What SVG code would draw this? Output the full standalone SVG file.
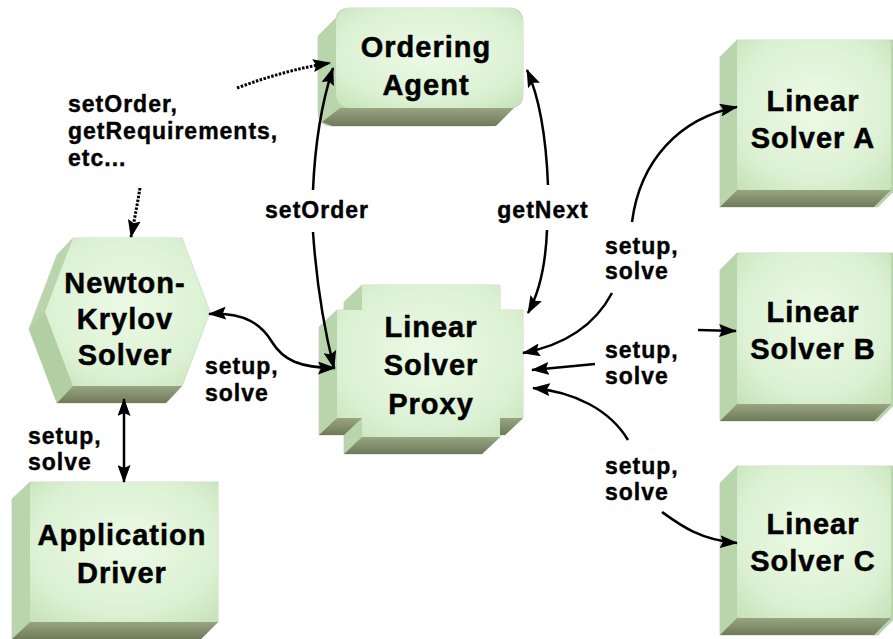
<svg xmlns="http://www.w3.org/2000/svg" width="893" height="639" viewBox="0 0 893 639">
<defs>
<radialGradient id="face" cx="50%" cy="45%" r="70%">
<stop offset="0" stop-color="#ecfae6"/>
<stop offset="0.7" stop-color="#dcf1d3"/>
<stop offset="1" stop-color="#c9e4bd"/>
</radialGradient>
<linearGradient id="bottom" x1="0" y1="0" x2="0" y2="1">
<stop offset="0" stop-color="#98a482"/>
<stop offset="1" stop-color="#6e7a58"/>
</linearGradient>
<marker id="arr" viewBox="0 0 18 13" refX="17" refY="6.5" markerWidth="18" markerHeight="13" markerUnits="userSpaceOnUse" orient="auto-start-reverse">
<path d="M0,0 L18,6.5 L0,13 L3,6.5 Z" fill="#000"/>
</marker>
<style>
.sil{fill:#b9d5ab;stroke:#c4ccbf;stroke-width:0.8}
.side{fill:#b2cfa4}
.bot{fill:url(#bottom)}
.front{fill:url(#face)}
.lbl{font-family:"Liberation Sans",Arial,sans-serif;font-weight:bold;font-size:29px;letter-spacing:1px;fill:#000;stroke:#000;stroke-width:0.5;text-anchor:middle}
.sm{font-family:"Liberation Sans",Arial,sans-serif;font-weight:bold;font-size:23px;letter-spacing:1px;fill:#000;stroke:#000;stroke-width:0.4}
.ln{fill:none;stroke:#000;stroke-width:2.5}
.dot{fill:none;stroke:#000;stroke-width:3;stroke-dasharray:2.5 1.5}
</style>
</defs>
<rect width="893" height="639" fill="#fff"/>

<g id="ordering-agent">
<path class="sil" d="M350,8 H509 Q523,8 523,22 V94 Q523,108 509,108 L491,126 H332 Q318,126 318,112 V36 L336,18 Q338,8 350,8 Z"/>
<polygon class="bot" points="340,108 514,108 496,126 332,126 322,122"/>
<rect class="front" x="336" y="8" width="187" height="100" rx="14"/>
<text class="lbl" x="426" y="57">Ordering</text>
<text class="lbl" x="426" y="95">Agent</text>
</g>

<g id="newton-krylov">
<polygon class="sil" points="73,238 182,238 210,312 182,386 166,403 57,403 29,329 57,255"/>
<polygon class="side" points="45,312 73,386 57,403 29,329"/>
<polygon class="bot" points="73,386 182,386 166,403 57,403"/>
<polygon class="front" points="73,238 182,238 210,312 182,386 73,386 45,312"/>
<text class="lbl" x="125" y="293">Newton-</text>
<text class="lbl" x="125" y="329">Krylov</text>
<text class="lbl" x="125" y="365">Solver</text>
</g>

<g id="linear-solver-proxy">
<polygon class="sil" points="362,285 500,285 500,310 523,310 523,418 505,435 500,435 500,437 482,454 344,454 344,435 319,435 319,327 337,310 344,310 344,302"/>
<polygon class="bot" points="500,418 523,418 505,435 482,435"/>
<polygon class="bot" points="362,437 500,437 482,454 344,454"/>
<polygon class="bot" points="337,418 362,418 344,435 319,435"/>
<polygon class="front" points="362,285 500,285 500,310 523,310 523,418 500,418 500,437 362,437 362,418 337,418 337,310 362,310"/>
<text class="lbl" x="431" y="337">Linear</text>
<text class="lbl" x="431" y="375">Solver</text>
<text class="lbl" x="431" y="414">Proxy</text>
</g>

<g id="application-driver">
<polygon class="sil" points="30,482 218,482 218,622 201,639 12,639 12,499"/>
<polygon class="bot" points="30,622 218,622 201,639 12,639"/>
<rect class="front" x="30" y="482" width="188" height="140" rx="3"/>
<text class="lbl" x="122" y="545">Application</text>
<text class="lbl" x="122" y="583">Driver</text>
</g>

<g id="linear-solver-a">
<polygon class="sil" points="737,40 895,40 895,190 878,207 720,207 720,57"/>
<polygon class="bot" points="737,190 891,190 874,207 720,207"/>
<rect class="front" x="737" y="40" width="154" height="150" rx="4"/>
<text class="lbl" x="813" y="111">Linear</text>
<text class="lbl" x="813" y="148">Solver A</text>
</g>

<g id="linear-solver-b">
<polygon class="sil" points="737,253 895,253 895,404 878,421 720,421 720,270"/>
<polygon class="bot" points="737,404 891,404 874,421 720,421"/>
<rect class="front" x="737" y="253" width="154" height="151" rx="4"/>
<text class="lbl" x="813" y="322">Linear</text>
<text class="lbl" x="813" y="359">Solver B</text>
</g>

<g id="linear-solver-c">
<polygon class="sil" points="737,466 895,466 895,618 878,635 720,635 720,483"/>
<polygon class="bot" points="737,618 891,618 874,635 720,635"/>
<rect class="front" x="737" y="466" width="154" height="152" rx="4"/>
<text class="lbl" x="813" y="534">Linear</text>
<text class="lbl" x="813" y="571">Solver C</text>
</g>

<g id="connectors">
<path class="dot" d="M237,88 Q285,70 330,63" marker-end="url(#arr)"/>
<path class="dot" d="M140,188 Q136,212 131,237" marker-end="url(#arr)"/>
<path class="ln" d="M313,190 Q316,120 333,68" marker-end="url(#arr)"/>
<path class="ln" d="M313,232 Q318,305 334,368" marker-end="url(#arr)"/>
<path class="ln" d="M548,185 Q545,110 527,70" marker-end="url(#arr)"/>
<path class="ln" d="M547,230 Q545,282 528,313" marker-end="url(#arr)"/>
<path class="ln" d="M209,314 C245,312 262,325 272,342 C283,360 300,368 335,368" marker-start="url(#arr)" marker-end="url(#arr)"/>
<path class="ln" d="M124,399 L124,482" marker-start="url(#arr)" marker-end="url(#arr)"/>
<path class="ln" d="M632,222 C640,160 680,118 737,107" marker-end="url(#arr)"/>
<path class="ln" d="M612,293 C595,325 565,345 523,353" marker-end="url(#arr)"/>
<path class="ln" d="M595,364 L532,370" marker-end="url(#arr)"/>
<path class="ln" d="M698,330 L736,331" marker-end="url(#arr)"/>
<path class="ln" d="M628,440 C610,410 575,392 533,388" marker-end="url(#arr)"/>
<path class="ln" d="M662,512 C680,525 700,540 737,543" marker-end="url(#arr)"/>
</g>

<g id="labels">
<text class="sm" x="68" y="112">setOrder,</text>
<text class="sm" x="68" y="139">getRequirements,</text>
<text class="sm" x="68" y="166">etc...</text>
<text class="sm" x="317" y="218" text-anchor="middle">setOrder</text>
<text class="sm" x="543" y="218" text-anchor="middle">getNext</text>
<text class="sm" x="605" y="254">setup,</text>
<text class="sm" x="605" y="279">solve</text>
<text class="sm" x="605" y="358">setup,</text>
<text class="sm" x="605" y="384">solve</text>
<text class="sm" x="605" y="474">setup,</text>
<text class="sm" x="605" y="500">solve</text>
<text class="sm" x="205" y="374">setup,</text>
<text class="sm" x="205" y="401">solve</text>
<text class="sm" x="28" y="444">setup,</text>
<text class="sm" x="28" y="470">solve</text>
</g>
</svg>
